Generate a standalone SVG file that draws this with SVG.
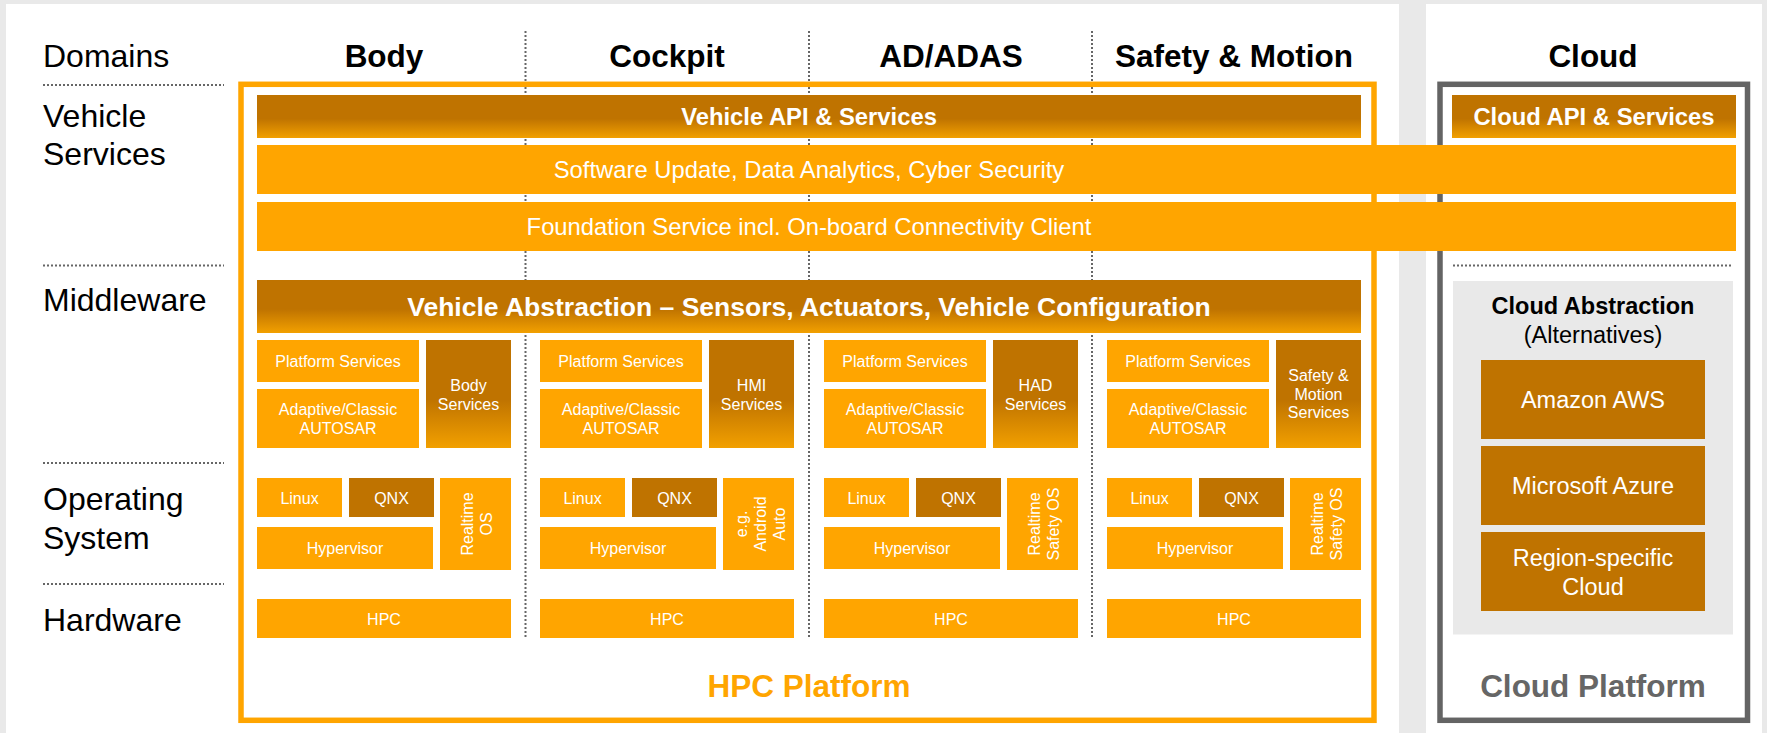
<svg xmlns="http://www.w3.org/2000/svg" width="1767" height="733" viewBox="0 0 1767 733">
<defs>
<linearGradient id="gDark" x1="0" y1="0" x2="0" y2="1">
<stop offset="0" stop-color="#BF7300"/>
<stop offset="0.55" stop-color="#BF7300"/>
<stop offset="1" stop-color="#F2A000"/>
</linearGradient>
</defs>
<style>
text{font-family:"Liberation Sans",Arial,Helvetica,sans-serif}
.lbl{font-size:32px;fill:#000}
.hdr{font-size:31.5px;font-weight:bold;fill:#000;text-anchor:middle}
.box{fill:#FFA500}
.dark{fill:#BF7300}
.grad{fill:url(#gDark)}
.t16{font-size:16px;fill:#fff;text-anchor:middle}
.t24{font-size:23.8px;fill:#fff;text-anchor:middle}
.b24{font-size:23.8px;font-weight:bold;fill:#fff;text-anchor:middle}
.t23{font-size:23.5px;fill:#fff;text-anchor:middle}
.sep{stroke:#666;stroke-width:2;stroke-dasharray:2 2;fill:none}
</style>

<!-- background panels -->
<rect x="0" y="0" width="1767" height="733" fill="#E9E9E9"/>
<rect x="6" y="4" width="1393" height="729" fill="#fff"/>
<rect x="1426" y="4" width="336" height="729" fill="#fff"/>

<!-- row labels -->
<g id="row-labels">
<text class="lbl" x="43" y="67">Domains</text>
<text class="lbl" x="43" y="126.5">Vehicle</text>
<text class="lbl" x="43" y="165">Services</text>
<text class="lbl" x="43" y="311">Middleware</text>
<text class="lbl" x="43" y="510">Operating</text>
<text class="lbl" x="43" y="548.5">System</text>
<text class="lbl" x="43" y="631">Hardware</text>
</g>

<!-- separators -->
<g id="separators">
<line class="sep" x1="43" y1="85" x2="224" y2="85"/>
<line class="sep" x1="43" y1="265.5" x2="224" y2="265.5"/>
<line class="sep" x1="43" y1="463" x2="224" y2="463"/>
<line class="sep" x1="43" y1="584" x2="224" y2="584"/>
<line class="sep" x1="525.5" y1="31" x2="525.5" y2="637"/>
<line class="sep" x1="809" y1="31" x2="809" y2="637"/>
<line class="sep" x1="1092" y1="31" x2="1092" y2="637"/>
<line class="sep" x1="1453" y1="265.5" x2="1733" y2="265.5"/>
</g>

<g id="connectors"></g>

<!-- domain headers -->
<g id="domain-headers">
<text class="hdr" x="384" y="67">Body</text>
<text class="hdr" x="667" y="67">Cockpit</text>
<text class="hdr" x="951" y="67">AD/ADAS</text>
<text class="hdr" x="1234" y="67">Safety &amp; Motion</text>
<text class="hdr" x="1593" y="67">Cloud</text>
</g>

<!-- frames -->
<g id="hpc-platform">
<rect x="241" y="84.3" width="1133" height="636" fill="none" stroke="#FFA500" stroke-width="5.5"/>
<text x="809" y="697" text-anchor="middle" style="font-size:31.5px;font-weight:bold;fill:#FFA500">HPC Platform</text>
</g>
<g id="cloud-platform">
<rect x="1440" y="84.3" width="307.5" height="636" fill="none" stroke="#646464" stroke-width="5.5"/>
<text x="1593" y="697" text-anchor="middle" style="font-size:31.5px;font-weight:bold;fill:#666">Cloud Platform</text>
</g>

<!-- top bars -->
<g id="vehicle-api">
<rect class="grad" x="257" y="95" width="1104" height="43"/>
<text class="b24" x="809" y="125">Vehicle API &amp; Services</text>
</g>
<g id="cloud-api">
<rect class="grad" x="1452" y="95" width="284" height="43"/>
<text class="b24" x="1594" y="125">Cloud API &amp; Services</text>
</g>
<g id="software-update">
<rect class="box" x="257" y="145" width="1479" height="49"/>
<text class="t24" x="809" y="177.7">Software Update, Data Analytics, Cyber Security</text>
</g>
<g id="foundation-service">
<rect class="box" x="257" y="202" width="1479" height="49"/>
<text class="t24" x="809" y="234.5">Foundation Service incl. On-board Connectivity Client</text>
</g>
<g id="vehicle-abstraction">
<rect class="grad" x="257" y="280" width="1104" height="53"/>
<text x="809" y="315.5" text-anchor="middle" style="font-size:26.5px;font-weight:bold;fill:#fff">Vehicle Abstraction – Sensors, Actuators, Vehicle Configuration</text>
</g>

<!-- Body column -->
<g id="body-platform-services"><rect class="box" x="257" y="340" width="162" height="42"/><text class="t16" x="338" y="366.5">Platform Services</text></g>
<g id="body-autosar"><rect class="box" x="257" y="389" width="162" height="59"/><text class="t16" x="338" y="415">Adaptive/Classic</text><text class="t16" x="338" y="433.5">AUTOSAR</text></g>
<g id="body-services"><rect class="grad" x="426" y="340" width="85" height="108"/><text class="t16" x="468.5" y="391">Body</text><text class="t16" x="468.5" y="409.5">Services</text></g>
<g id="body-linux"><rect class="box" x="257" y="478" width="85" height="39"/><text class="t16" x="299.5" y="503.5">Linux</text></g>
<g id="body-qnx"><rect class="dark" x="349" y="478" width="85" height="39"/><text class="t16" x="391.5" y="503.5">QNX</text></g>
<g id="body-hypervisor"><rect class="box" x="257" y="527" width="176" height="42"/><text class="t16" x="345" y="553.5">Hypervisor</text></g>
<g id="body-rtos"><rect class="box" x="440" y="478" width="71" height="92"/><g transform="translate(475.5 524) rotate(-90)"><text class="t16" x="0" y="-3">Realtime</text><text class="t16" x="0" y="16">OS</text></g></g>
<g id="body-hpc"><rect class="box" x="257" y="599" width="254" height="39"/><text class="t16" x="384" y="624.5">HPC</text></g>

<!-- Cockpit column -->
<g id="cockpit-platform-services"><rect class="box" x="540" y="340" width="162" height="42"/><text class="t16" x="621" y="366.5">Platform Services</text></g>
<g id="cockpit-autosar"><rect class="box" x="540" y="389" width="162" height="59"/><text class="t16" x="621" y="415">Adaptive/Classic</text><text class="t16" x="621" y="433.5">AUTOSAR</text></g>
<g id="hmi-services"><rect class="grad" x="709" y="340" width="85" height="108"/><text class="t16" x="751.5" y="391">HMI</text><text class="t16" x="751.5" y="409.5">Services</text></g>
<g id="cockpit-linux"><rect class="box" x="540" y="478" width="85" height="39"/><text class="t16" x="582.5" y="503.5">Linux</text></g>
<g id="cockpit-qnx"><rect class="dark" x="632" y="478" width="85" height="39"/><text class="t16" x="674.5" y="503.5">QNX</text></g>
<g id="cockpit-hypervisor"><rect class="box" x="540" y="527" width="176" height="42"/><text class="t16" x="628" y="553.5">Hypervisor</text></g>
<g id="cockpit-android"><rect class="box" x="723" y="478" width="71" height="92"/><g transform="translate(758.5 524) rotate(-90)"><text class="t16" x="0" y="-12">e.g.</text><text class="t16" x="0" y="7">Android</text><text class="t16" x="0" y="26">Auto</text></g></g>
<g id="cockpit-hpc"><rect class="box" x="540" y="599" width="254" height="39"/><text class="t16" x="667" y="624.5">HPC</text></g>

<!-- AD/ADAS column -->
<g id="ad-platform-services"><rect class="box" x="824" y="340" width="162" height="42"/><text class="t16" x="905" y="366.5">Platform Services</text></g>
<g id="ad-autosar"><rect class="box" x="824" y="389" width="162" height="59"/><text class="t16" x="905" y="415">Adaptive/Classic</text><text class="t16" x="905" y="433.5">AUTOSAR</text></g>
<g id="had-services"><rect class="grad" x="993" y="340" width="85" height="108"/><text class="t16" x="1035.5" y="391">HAD</text><text class="t16" x="1035.5" y="409.5">Services</text></g>
<g id="ad-linux"><rect class="box" x="824" y="478" width="85" height="39"/><text class="t16" x="866.5" y="503.5">Linux</text></g>
<g id="ad-qnx"><rect class="dark" x="916" y="478" width="85" height="39"/><text class="t16" x="958.5" y="503.5">QNX</text></g>
<g id="ad-hypervisor"><rect class="box" x="824" y="527" width="176" height="42"/><text class="t16" x="912" y="553.5">Hypervisor</text></g>
<g id="ad-rtos"><rect class="box" x="1007" y="478" width="71" height="92"/><g transform="translate(1042.5 524) rotate(-90)"><text class="t16" x="0" y="-3">Realtime</text><text class="t16" x="0" y="16">Safety OS</text></g></g>
<g id="ad-hpc"><rect class="box" x="824" y="599" width="254" height="39"/><text class="t16" x="951" y="624.5">HPC</text></g>

<!-- Safety & Motion column -->
<g id="sm-platform-services"><rect class="box" x="1107" y="340" width="162" height="42"/><text class="t16" x="1188" y="366.5">Platform Services</text></g>
<g id="sm-autosar"><rect class="box" x="1107" y="389" width="162" height="59"/><text class="t16" x="1188" y="415">Adaptive/Classic</text><text class="t16" x="1188" y="433.5">AUTOSAR</text></g>
<g id="sm-services"><rect class="grad" x="1276" y="340" width="85" height="108"/><text class="t16" x="1318.5" y="381">Safety &amp;</text><text class="t16" x="1318.5" y="399.5">Motion</text><text class="t16" x="1318.5" y="418">Services</text></g>
<g id="sm-linux"><rect class="box" x="1107" y="478" width="85" height="39"/><text class="t16" x="1149.5" y="503.5">Linux</text></g>
<g id="sm-qnx"><rect class="dark" x="1199" y="478" width="85" height="39"/><text class="t16" x="1241.5" y="503.5">QNX</text></g>
<g id="sm-hypervisor"><rect class="box" x="1107" y="527" width="176" height="42"/><text class="t16" x="1195" y="553.5">Hypervisor</text></g>
<g id="sm-rtos"><rect class="box" x="1290" y="478" width="71" height="92"/><g transform="translate(1325.5 524) rotate(-90)"><text class="t16" x="0" y="-3">Realtime</text><text class="t16" x="0" y="16">Safety OS</text></g></g>
<g id="sm-hpc"><rect class="box" x="1107" y="599" width="254" height="39"/><text class="t16" x="1234" y="624.5">HPC</text></g>

<!-- Cloud abstraction -->
<g id="cloud-abstraction">
<rect x="1453" y="281" width="280" height="353.5" fill="#E9E9E9"/>
<text x="1593" y="313.5" text-anchor="middle" style="font-size:23.5px;font-weight:bold;fill:#000">Cloud Abstraction</text>
<text x="1593" y="342.5" text-anchor="middle" style="font-size:23.5px;fill:#000">(Alternatives)</text>
</g>
<g id="amazon-aws"><rect class="dark" x="1481" y="360" width="224" height="79"/><text class="t23" x="1593" y="408">Amazon AWS</text></g>
<g id="microsoft-azure"><rect class="dark" x="1481" y="446" width="224" height="79"/><text class="t23" x="1593" y="493.5">Microsoft Azure</text></g>
<g id="region-cloud"><rect class="dark" x="1481" y="532" width="224" height="79"/><text class="t23" x="1593" y="566">Region-specific</text><text class="t23" x="1593" y="594.5">Cloud</text></g>
</svg>
